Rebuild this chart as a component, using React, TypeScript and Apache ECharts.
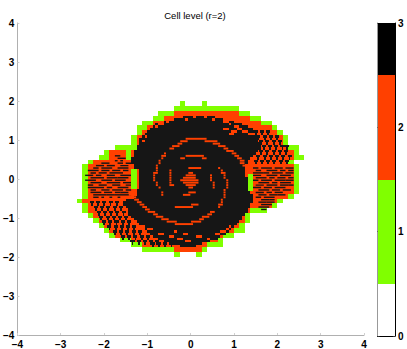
import React, { useEffect, useRef } from "react";
import * as echarts from "echarts";

const titleText = "Cell level (r=2)";
const levelPalette = ["#ffffff", "#80ff00", "#ff4000", "#161616", "#ff4000", "#161616"];
const colorbarBands = [
  [0, 0.5, 0],
  [0.5, 1.5, 1],
  [1.5, 2.5, 2],
  [2.5, 3, 3],
];
const barBandColors = ["#ffffff", "#80ff00", "#ff4000", "#000000"];

// coarse rows, in eighths: [row, from, to, from, to ...]
const levelOneRows = [
  [15, -2, -1, 2, 3], [14, -3, 9], [13, -6, 11], [12, -7, 13], [11, -9, 15], [10, -10, 16], [9, -10, 17],
  [8, -11, 18], [7, -11, 18], [6, -14, 20], [5, -16, 20], [4, -17, 21], [3, -19, 19], [2, -20, 20], [1, -20, 20],
  [0, -20, 20], [-1, -20, 20], [-2, -20, 20], [-3, -20, 20], [-4, -20, 19], [-5, -21, 17], [-6, -20, 16],
  [-7, -20, 14], [-8, -19, 11], [-9, -18, 11], [-10, -17, 10], [-11, -16, 10], [-12, -15, 8], [-13, -13, 6],
  [-14, -11, 6], [-15, -9, 3], [-16, -3, -2, 1, 2],
];
const levelTwoRows = [
  [13, -3, 9], [12, -5, 11], [11, -7, 13], [10, -8, 15], [9, -9, 16], [8, -10, 17], [7, -10, 17], [6, -10, 18],
  [5, -15, -12, -11, 19], [4, -15, -12, -11, 19], [3, -18, 18], [2, -19, 19], [1, -19, 19], [0, -19, 19],
  [-1, -19, 19], [-2, -19, 19], [-3, -19, 19], [-4, -19, 18], [-5, -20, 16], [-6, -19, 15], [-7, -19, 11],
  [-8, -18, 10], [-9, -17, 10], [-10, -16, 9], [-11, -15, 8], [-12, -14, 6], [-13, -11, 5], [-14, -9, 3], [-15, -3, 2],
];
// fine rows, in sixteenths: [row, first, last, first, last ...]
const levelThreeDisc = [
  [26, -3, 0, 2, 4, 6, 8], [25, -6, -3, -1, 7, 9, 11], [24, -10, 15], [23, -13, 18], [22, -14, 20], [21, -15, 22],
  [20, -16, 23], [19, -17, 22], [18, -18, 23], [17, -19, 24], [16, -19, 24], [15, -19, 25], [14, -20, 25], [13, -20, 25],
  [12, -21, 24], [11, -21, 23], [10, -21, 22], [9, -22, 21], [8, -22, 20], [7, -22, 20], [6, -21, 19], [5, -21, 19],
  [4, -19, 19], [3, -19, 19], [2, -19, 19], [1, -19, 20], [0, -19, 20], [-1, -19, 20], [-2, -19, 21], [-3, -19, 21],
  [-4, -20, 21], [-5, -20, 21], [-6, -20, 22], [-7, -21, 22], [-8, -24, 22], [-9, -25, 22], [-10, -25, 21], [-11, -24, 21],
  [-12, -23, 20], [-13, -23, 20], [-14, -23, 19], [-15, -22, 18], [-16, -21, 18], [-17, -20, 17], [-18, -19, 16], [-19, -18, 15],
  [-20, -17, 14], [-21, -16, 13], [-22, -15, 12], [-23, -14, 10], [-24, -12, 9], [-25, -10, 6], [-26, -7, 3], [-27, -4, 1],
];
const levelThreeLeftLobe = [
  [10, -28, -27], [9, -27, -25], [8, -28, -28, -26, -26], [7, -27, -26, -33, -31, -24, -23],
  [6, -35, -33, -31, -29, -26, -24],
  [5, -36, -35, -33, -30, -27, -24], [4, -38, -35, -33, -31, -29, -27, -25, -24], [3, -37, -36, -34, -32, -30, -26],
  [2, -39, -37, -35, -34, -31, -29, -26, -23], [1, -37, -33, -31, -28, -27, -24], [0, -39, -36, -33, -30, -28, -25],
  [-1, -37, -34, -31, -27, -25, -23], [-2, -38, -37, -34, -32, -29, -27, -24, -22], [-3, -38, -33, -31, -30, -27, -24],
  [-4, -37, -36, -33, -31, -29, -26, -24, -23], [-5, -37, -34, -32, -30, -28, -27, -26, -24],
  [-6, -36, -32, -31, -29, -28, -26, -25, -23], [-7, -36, -35, -33, -33, -30, -30, -27, -27],
];
const levelThreeRightLobe = [
  [5, 23, 24, 26, 29, 31, 33, 35, 37], [4, 24, 25, 28, 31, 33, 34, 36, 37], [3, 23, 26, 27, 28, 30, 33, 35, 37],
  [2, 23, 25, 28, 31, 33, 36], [1, 24, 27, 29, 30, 32, 34, 36, 37], [0, 23, 24, 26, 29, 31, 34, 35, 37],
  [-1, 25, 28, 30, 31, 33, 36], [-2, 24, 26, 28, 31, 33, 35, 36, 37], [-3, 23, 25, 27, 29, 31, 34],
  [-4, 25, 28, 30, 32, 34, 36], [-5, 24, 26, 28, 29, 31, 33], [-6, 25, 27, 29, 31, 32, 34], [-7, 24, 25, 27, 30],
  [-8, 26, 28, 29, 30], [-9, 25, 27, 28, 30], [-10, 26, 29], [-11, 25, 28], [-12, 26, 27],
];
// rows of small black triangles in the honeycomb parts: [row, centre, centre ...]
const honeycombRows = [
  [20, 24, 26.3, 28.6],
  [18, 25, 27.3, 29.6, 31.9],
  [16, 26, 28.3, 30.6, 32.9],
  [14, 27, 29.3, 31.6, 33.9, 35.5],
  [12, 26, 28.3, 30.6, 32.9, 35.2],
  [10, 25, 27.3, 29.6, 31.9, 34.2, 36.5],
  [8, 24, 26.3, 28.6, 30.9, 33.2, 35.5],
  [-9, -36.5, -34.2, -31.9, -29.6, -27.3],
  [-11, -35, -32.7, -30.4, -28.1, -25.8],
  [-13, -34, -31.7, -29.4, -27.1, -24.8],
  [-15, -33, -30.7, -28.4, -26.1, -23.8],
  [-17, -32, -29.7, -27.4, -25.1, -22.8],
  [-19, -30, -27.7, -25.4, -23.1, -20.8],
  [-21, -28, -25.7, -23.4, -21.1, -18.8],
  [-23, -25, -22.7, -20.4, -18.1, -15.8],
  [-25, -21.5, -19.2, -16.9, -14.6, -12.3],
  [-26, -14, -11.7, -9.4, -7.1],
];
// the orange spiral and the specks inside the black disc
const spiralRows = [
  [17, -2, 5], [16, -4, -2, 5, 9], [15, -5, -4, 8, 10], [14, -7, -5, 10, 12], [13, -8, -7, 12, 13], [12, 13, 15],
  [11, -10, -10, 15, 16], [10, -11, -10, -2, 4, 16, 17], [9, -11, -11, -4, -3, 4, 5, 17, 18], [8, -12, -12, 18, 19],
  [7, -12, -12, 18, 19], [6, -13, -13, 19, 20], [5, -13, -13, -1, 3, 10, 10, 20, 21], [4, -13, -13, -8, -8, 11, 11],
  [3, -14, -13, -8, -8, -1, 0, 11, 12], [2, -14, -14, -8, -8, -2, 1, 7, 7, 12, 12], [1, -14, -14, -8, -8, -3, 1, 7, 7, 12, 12],
  [0, -14, -14, -8, -8, -4, 2, 7, 7, 13, 13], [-1, -13, -13, -8, -8, -3, 2, 8, 8, 13, 13],
  [-2, -13, -13, -8, -7, -2, 1, 8, 8, 13, 13], [-3, -12, -12, -1, 0, 8, 8, 13, 13], [-4, 12, 12], [-5, -11, -11, -1, 1, 12, 12],
  [-6, -23, -21, -11, -11, -3, -1, 12, 12], [-7, -22, -21, 12, 12], [-8, -21, -20, 11, 11], [-9, -20, -19, 11, 11],
  [-10, -19, -18, 0, 2, 10, 11], [-11, -18, -17, -6, 0, 10, 10], [-12, -17, -16], [-13, -16, -14, 7, 8],
  [-14, -14, -13, 6, 7], [-15, -13, -11, 4, 6], [-16, -11, -9, 3, 4], [-17, -9, -6, 0, 3], [-18, -6, 0],
];
const speckRows = [
  [24, -9, -9, 12, 13], [23, -12, -11, 14, 14], [22, -13, -13, 16, 17], [21, 12, 13, 17, 18], [20, 15, 16, 19, 20],
  [19, 14, 15, 21, 22], [18, -17, -17], [16, -18, -18], [-19, -19, -18, 14, 14], [-20, -16, -15, 13, 13],
  [-21, -18, -17, -6, -6, 11, 12], [-22, -12, -11, -3, -2, 9, 10], [-23, -8, -7, 2, 3], [-24, -5, -4, 6, 6], [-25, -2, -1],
];
// the two green slits between the disc and the lobes
const slitRows = [
  [4, -22, -21], [3, -22, -21], [2, -22, -21, 21, 22], [1, -22, -21, 21, 22], [0, -22, -21, 21, 22], [-1, -22, -21, 21, 22],
  [-2, -22, -21, 21, 22], [-3, -22, -21, 21, 22], [-4, 21, 22],
];

type Cell = [number, number, number, number, number];

function coarse(rows: number[][], level: number): Cell[] {
  const out: Cell[] = [];
  for (const r of rows)
    for (let n = 1; n < r.length; n += 2) out.push([r[n] / 8, r[n + 1] / 8, r[0] / 8, (r[0] + 1) / 8, level]);
  return out;
}
function fine(rows: number[][], level: number): Cell[] {
  const out: Cell[] = [];
  for (const r of rows)
    for (let n = 1; n < r.length; n += 2) out.push([r[n] / 16, (r[n + 1] + 1) / 16, (r[0] - 1) / 16, r[0] / 16, level]);
  return out;
}
function honeycomb(rows: number[][], level: number): Cell[] {
  const out: Cell[] = [];
  for (const r of rows)
    for (let n = 1; n < r.length; n++) {
      out.push([(r[n] - 0.75) / 16, (r[n] + 0.75) / 16, (r[0] - 1) / 16, r[0] / 16, level]);
      out.push([(r[n] - 0.35) / 16, (r[n] + 0.35) / 16, (r[0] - 2) / 16, (r[0] - 1) / 16, level]);
    }
  return out;
}

const cellData: Cell[] = [
  ...coarse(levelOneRows, 1),
  ...coarse(levelTwoRows, 2),
  ...fine(levelThreeDisc, 3),
  ...fine(levelThreeLeftLobe, 5),
  ...fine(levelThreeRightLobe, 5),
  ...honeycomb(honeycombRows, 3),
  ...fine(spiralRows, 4),
  ...fine(speckRows, 2),
  ...fine(slitRows, 1),
];

const FONT = "'Liberation Sans', Arial, sans-serif";
const minusLabel = (v: number) => String(v).replace("-", "\u2212");

function cellItem(palette: string[]) {
  return (_p: any, api: any) => {
    const a = api.coord([api.value(0), api.value(3)]);
    const b = api.coord([api.value(1), api.value(2)]);
    const level = api.value(4);
    if (level === 4) {
      // the spiral is one fine cell drawn slightly narrower, unsnapped
      return {
        type: "rect",
        shape: { x: a[0] + 0.35, y: a[1] + 0.25, width: b[0] - a[0] - 0.7, height: b[1] - a[1] - 0.5 },
        style: { fill: palette[level] },
        silent: true,
      };
    }
    if (level === 5) {
      // the dashes in the lobes are thinner than one row
      return {
        type: "rect",
        shape: { x: a[0], y: a[1] + 0.5, width: b[0] - a[0], height: b[1] - a[1] - 1 },
        style: { fill: palette[level] },
        silent: true,
      };
    }
    const x = Math.round(a[0]);
    const y = Math.round(a[1]);
    return {
      type: "rect",
      shape: { x, y, width: Math.round(b[0]) - x, height: Math.round(b[1]) - y },
      style: { fill: palette[level] },
      silent: true,
    };
  };
}

export default function App() {
  const ref = useRef<HTMLDivElement>(null);
  useEffect(() => {
    document.body.style.margin = "0";
    const chart = echarts.init(ref.current!, undefined, { renderer: "svg" });
    const bandData = colorbarBands.map((b) => [0, 1, b[0], b[1], b[2]]);
    chart.setOption({
      animation: false,
      backgroundColor: "#ffffff",
      title: {
        text: titleText,
        left: 190,
        top: 5,
        textAlign: "center",
        textStyle: { fontFamily: FONT, fontSize: 9.5, fontWeight: "normal", color: "#000" },
      },
      grid: [
        { left: 14.5, top: 23, width: 349.5, height: 313, containLabel: false },
        { left: 377.5, top: 23, width: 17.5, height: 313, containLabel: false },
      ],
      xAxis: [
        {
          gridIndex: 0, type: "value", min: -4, max: 4, interval: 1,
          axisLine: { onZero: false, lineStyle: { color: "#b0b0b0", width: 1 } },
          axisTick: { inside: true, length: 2, lineStyle: { color: "#d0d0d0" } },
          axisLabel: { fontFamily: FONT, fontSize: 10, fontWeight: "bold", color: "#000", margin: 4, formatter: minusLabel },
          splitLine: { show: false },
        },
        {
          gridIndex: 1, type: "value", min: 0, max: 1,
          axisLine: { onZero: false, lineStyle: { color: "#000", width: 1 } },
          axisTick: { show: false }, axisLabel: { show: false }, splitLine: { show: false },
        },
      ],
      yAxis: [
        {
          gridIndex: 0, type: "value", min: -4, max: 4, interval: 1,
          axisLine: { onZero: false, lineStyle: { color: "#b0b0b0", width: 1 } },
          axisTick: { inside: true, length: 2, lineStyle: { color: "#d0d0d0" } },
          axisLabel: { fontFamily: FONT, fontSize: 10, fontWeight: "bold", color: "#000", margin: 3, formatter: minusLabel },
          splitLine: { show: false },
        },
        {
          gridIndex: 1, type: "value", position: "right", min: 0, max: 3, interval: 1,
          axisLine: { show: true, onZero: false, lineStyle: { color: "#000", width: 1 } },
          axisTick: { inside: true, length: 2, lineStyle: { color: "#333" } },
          axisLabel: { fontFamily: FONT, fontSize: 10, fontWeight: "bold", color: "#000", margin: 3 },
          splitLine: { show: false },
        },
        {
          gridIndex: 1, type: "value", position: "left", min: 0, max: 3, interval: 1,
          axisLine: { show: true, onZero: false, lineStyle: { color: "#999", width: 1 } },
          axisTick: { inside: true, length: 2, lineStyle: { color: "#333" } },
          axisLabel: { show: false },
          splitLine: { show: false },
        },
      ],
      series: [
        {
          type: "custom", xAxisIndex: 0, yAxisIndex: 0, data: cellData,
          encode: { x: [0, 1], y: [2, 3] }, renderItem: cellItem(levelPalette), silent: true, z: 1,
        },
        {
          type: "custom", xAxisIndex: 1, yAxisIndex: 1, data: bandData,
          encode: { x: [0, 1], y: [2, 3] }, renderItem: cellItem(barBandColors), silent: true, z: 1,
        },
      ],
    });
    return () => chart.dispose();
  }, []);
  return <div ref={ref} style={{ width: 407, height: 349 }} />;
}
